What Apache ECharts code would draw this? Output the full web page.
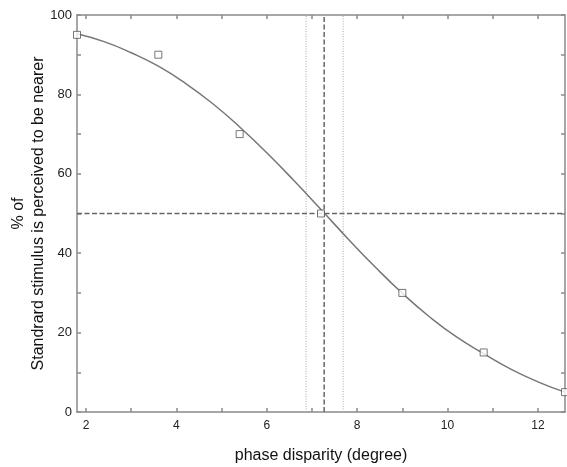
<!DOCTYPE html>
<html><head><meta charset="utf-8">
<script src="https://cdn.jsdelivr.net/npm/echarts@6/dist/echarts.min.js"></script>
<style>html,body{margin:0;padding:0;background:#fff}#c{width:567px;height:467px}</style>
</head><body><div id="c"></div>
<script>
var pointX = [1.8, 3.6, 5.4, 7.2, 9.0, 10.8, 12.6];
var pointY = [95, 90, 70, 50, 30, 15, 5];
var curveX = [1.8, 2.4, 3.0, 3.6, 4.2, 4.8, 5.4, 6.0, 6.6, 7.2, 7.8, 8.4, 9.0, 9.6, 10.2, 10.8, 11.4, 12.0, 12.6];
var curveY = [95.3, 93.3, 90.5, 87.1, 82.8, 77.7, 71.8, 65.3, 58.3, 51.0, 43.6, 36.5, 29.9, 24.0, 18.9, 14.7, 10.8, 7.6, 5.0];
var thresholdX = 7.27;
var ciLow = 6.87, ciHigh = 7.69;
var halfLevel = 50;
var xTickValues = [2, 3, 4, 5, 6, 7, 8, 9, 10, 11, 12];
var xLabelValues = [2, 4, 6, 8, 10, 12];
var yTickValues = [0, 10, 20, 30, 40, 50, 60, 70, 80, 90, 100];
var yLabelValues = [0, 20, 40, 60, 80, 100];
var xMin = 1.8, xMax = 12.6, yMin = 0, yMax = 100;

var chart = echarts.init(document.getElementById('c'));
var axisCol = '#8a8a8a';
var font = 'Liberation Sans, Arial, sans-serif';
function xAxisDef(pos, showLabel) {
  return {
    type: 'value', position: pos, min: xMin, max: xMax,
    axisLine: {show: true, onZero: false, lineStyle: {color: axisCol, width: 1.5}},
    axisTick: {show: true, inside: true, length: 4, customValues: xTickValues, lineStyle: {color: axisCol, width: 1.5}},
    axisLabel: {show: showLabel, customValues: xLabelValues, color: '#222', fontSize: 12, fontFamily: font, margin: 8},
    splitLine: {show: false},
    name: showLabel ? 'phase disparity (degree)' : '', nameLocation: 'middle', nameGap: 36,
    nameMoveOverlap: false,
    nameTextStyle: {color: '#111', fontSize: 16, fontFamily: font}
  };
}
function yAxisDef(pos, showLabel) {
  return {
    type: 'value', position: pos, min: yMin, max: yMax,
    axisLine: {show: true, onZero: false, lineStyle: {color: axisCol, width: 1.5}},
    axisTick: {show: true, inside: true, length: 4, customValues: yTickValues, lineStyle: {color: axisCol, width: 1.5}},
    axisLabel: {show: showLabel, customValues: yLabelValues, color: '#222', fontSize: 13, fontFamily: font, margin: 5},
    splitLine: {show: false},
    name: showLabel ? '% of\nStandrard stimulus is perceived to be nearer' : '', nameLocation: 'middle', nameGap: 28,
    nameMoveOverlap: false,
    nameTextStyle: {color: '#111', fontSize: 16, fontFamily: font, lineHeight: 20}
  };
}
chart.setOption({
  animation: false,
  backgroundColor: '#fff',
  grid: {left: 77, right: 2, top: 15, bottom: 55, outerBoundsMode: 'none', containLabel: false},
  xAxis: [xAxisDef('bottom', true), xAxisDef('top', false)],
  yAxis: [yAxisDef('left', true), yAxisDef('right', false)],
  series: [
    {type: 'line', data: [[ciLow, yMin], [ciLow, yMax]], symbol: 'none', silent: true,
     lineStyle: {color: '#aaaaaa', width: 1, type: [1, 1.5]}},
    {type: 'line', data: [[ciHigh, yMin], [ciHigh, yMax]], symbol: 'none', silent: true,
     lineStyle: {color: '#aaaaaa', width: 1, type: [1, 1.5]}},
    {type: 'line', data: [[thresholdX, yMin], [thresholdX, yMax]], symbol: 'none', silent: true,
     lineStyle: {color: '#666', width: 1.5, type: [5, 2.5]}},
    {type: 'line', data: [[xMin, halfLevel], [xMax, halfLevel]], symbol: 'none', silent: true,
     lineStyle: {color: '#666', width: 1.5, type: [5, 2.5]}},
    {type: 'line', data: curveX.map(function (x, i) { return [x, curveY[i]]; }), symbol: 'none', smooth: 0.5,
     lineStyle: {color: '#777', width: 1.5}},
    {type: 'scatter', data: pointX.map(function (x, i) { return [x, pointY[i]]; }), symbol: 'rect', symbolSize: 7,
     itemStyle: {color: '#fff', borderColor: '#555', borderWidth: 1}, z: 5}
  ]
});
</script></body></html>
